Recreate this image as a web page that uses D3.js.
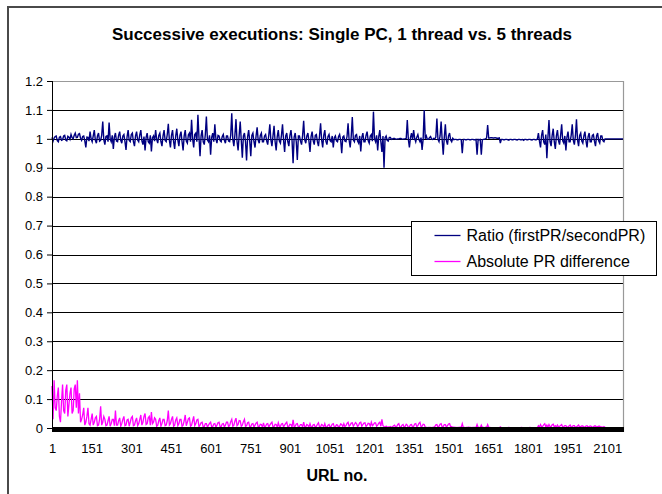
<!DOCTYPE html>
<html>
<head>
<meta charset="utf-8">
<script src="https://cdn.jsdelivr.net/npm/d3@7"></script>
<style>
  body { margin: 0; background: #fff; }
  text { font-family: "Liberation Sans", Arial, sans-serif; }
</style>
</head>
<body>
<div id="chart"></div>
<script>
// each sample covers 4 successive URLs (sample i -> URL 1 + 4*i)
var urlStep = 4;

var ratio = [
  1.005, 0.992, 1.003, 1.008, 1.01, 0.994, 0.99, 1.006, 1.008, 0.995, 0.997, 1.01, 1.012, 0.996, 0.993, 1.009, 1.006, 0.998, 1.015, 1.004,
  1.0, 1.012, 1.02, 1.004, 1.005, 1.016, 1.018, 1.002, 0.995, 1.008, 1.01, 0.994, 0.97, 1.006, 1.005, 0.992, 1.025, 1.0, 0.99, 1.01,
  1.03, 0.995, 0.985, 1.01, 1.02, 0.992, 0.995, 1.012, 1.06, 0.996, 0.98, 1.008, 1.01, 0.99, 1.056, 1.0, 0.99, 1.012, 0.965, 1.006,
  1.02, 0.992, 0.99, 1.012, 1.025, 0.995, 0.985, 1.01, 1.015, 0.99, 0.962, 1.008, 1.03, 0.994, 0.99, 1.015, 1.02, 0.99, 0.975, 1.01,
  1.025, 0.996, 0.99, 1.014, 1.03, 0.993, 0.98, 1.008, 0.96, 1.005, 1.02, 0.99, 0.985, 1.012, 0.956, 1.004, 1.01, 0.992, 1.03, 0.998,
  0.985, 1.012, 1.02, 0.99, 0.975, 1.01, 1.03, 0.994, 0.99, 1.015, 1.052, 0.995, 0.97, 1.012, 1.03, 0.99, 0.965, 1.01, 1.035, 0.996,
  0.975, 1.012, 1.025, 0.99, 0.96, 1.01, 1.03, 0.992, 0.985, 1.014, 1.02, 0.99, 1.066, 1.0, 0.97, 1.015, 1.02, 0.99, 1.083, 1.005,
  0.94, 1.01, 1.03, 0.99, 0.98, 1.015, 1.077, 0.996, 0.99, 1.012, 0.945, 1.005, 1.02, 0.99, 1.05, 1.0, 0.985, 1.012, 1.01, 0.994,
  0.99, 1.008, 1.015, 0.995, 0.985, 1.01, 1.01, 0.992, 0.99, 1.012, 1.088, 0.998, 0.975, 1.014, 1.068, 0.99, 0.96, 1.012, 1.06, 0.994,
  0.935, 1.01, 1.02, 0.99, 0.925, 1.008, 1.03, 0.992, 0.94, 1.012, 1.02, 0.99, 0.97, 1.01, 1.04, 0.995, 0.985, 1.012, 1.02, 0.99,
  0.99, 1.01, 1.015, 0.993, 0.98, 1.012, 1.05, 0.996, 0.975, 1.01, 1.045, 0.99, 0.96, 1.008, 1.03, 0.992, 0.985, 1.012, 1.05, 0.995,
  0.955, 1.01, 1.02, 0.99, 0.975, 1.012, 1.03, 0.995, 0.916, 1.006, 1.02, 0.99, 0.927, 1.01, 1.01, 0.992, 0.98, 1.012, 1.062, 0.996,
  0.985, 1.01, 1.02, 0.992, 0.955, 1.008, 1.025, 0.994, 0.98, 1.012, 1.015, 0.99, 0.975, 1.01, 1.054, 0.996, 0.97, 1.012, 1.03, 0.992,
  0.98, 1.008, 1.015, 0.994, 0.99, 1.01, 0.97, 1.004, 1.01, 0.993, 0.99, 1.008, 1.015, 0.995, 0.95, 1.006, 1.01, 0.992, 0.99, 1.008,
  1.054, 0.995, 0.97, 1.01, 1.075, 0.996, 0.99, 1.012, 1.015, 0.992, 0.985, 1.01, 0.956, 1.005, 1.02, 0.99, 0.99, 1.012, 1.025, 0.994,
  0.985, 1.01, 1.015, 0.992, 1.094, 1.0, 0.99, 1.012, 0.96, 1.008, 1.03, 0.99, 0.955, 1.01, 0.9, 1.004, 1.01, 0.995, 0.992, 1.005,
  1.005, 0.998, 1.0, 1.001, 1.001, 0.999, 0.999, 1.0, 1.0, 1.001, 1.001, 0.999, 0.999, 1.0, 1.0, 1.002, 1.065, 0.998, 0.97, 1.004,
  1.02, 0.996, 1.03, 1.002, 0.99, 1.006, 1.015, 0.998, 0.99, 1.004, 0.962, 1.0, 1.1, 1.0, 1.01, 0.998, 0.998, 1.004, 1.008, 0.999,
  0.998, 1.002, 1.0, 1.006, 1.07, 0.998, 0.99, 1.01, 1.06, 0.996, 0.945, 1.006, 1.05, 0.994, 0.98, 1.01, 1.02, 0.996, 0.99, 1.002,
  0.997, 0.998, 0.998, 0.997, 0.997, 0.998, 0.998, 0.997, 0.95, 0.998, 0.998, 0.997, 0.997, 0.998, 0.998, 0.997, 0.997, 0.998, 0.998, 0.997,
  0.997, 0.998, 0.945, 0.998, 0.997, 0.998, 0.945, 0.997, 0.998, 0.999, 1.0, 1.003, 1.048, 1.003, 1.003, 1.004, 1.004, 1.003, 1.003, 1.004,
  1.003, 1.002, 1.002, 1.003, 0.985, 0.998, 0.998, 0.997, 0.997, 0.998, 0.998, 0.997, 0.995, 0.998, 0.998, 0.997, 0.997, 0.998, 0.998, 0.997,
  0.996, 0.998, 0.998, 0.997, 0.997, 0.998, 0.995, 0.998, 0.998, 0.997, 0.997, 0.998, 0.998, 0.997, 0.996, 0.998, 0.998, 0.997, 0.997, 0.999,
  1.02, 0.992, 0.97, 1.012, 1.03, 0.99, 0.98, 1.015, 0.933, 1.005, 1.065, 0.99, 0.975, 1.012, 1.035, 0.99, 0.965, 1.01, 1.03, 0.994,
  0.98, 1.012, 1.05, 0.993, 0.985, 1.01, 0.96, 1.006, 1.025, 0.99, 0.99, 1.012, 1.05, 0.995, 0.98, 1.01, 1.068, 0.996, 0.975, 1.012,
  1.02, 0.992, 0.985, 1.01, 1.025, 0.993, 0.97, 1.008, 1.02, 0.99, 0.99, 1.012, 1.015, 0.992, 0.975, 1.01, 1.02, 0.993, 0.985, 1.01,
  1.01, 0.994, 0.99, 1.0, 1.0, 1.0, 1.0, 1.0, 1.0, 1.0, 1.0, 1.0, 1.0, 1.0, 1.0, 1.0, 1.0, 1.0, 1.0, 1.0, 1.0
];

var absDiff = [
  0.145, 0.03, 0.165, 0.07, 0.06, 0.11, 0.14, 0.04, 0.02, 0.09, 0.15, 0.06, 0.05, 0.13, 0.15, 0.04, 0.08, 0.12, 0.14, 0.05,
  0.06, 0.135, 0.15, 0.07, 0.165, 0.05, 0.12, 0.02, 0.03, 0.045, 0.07, 0.01, 0.02, 0.04, 0.07, 0.015, 0.01, 0.03, 0.05, 0.01,
  0.02, 0.035, 0.04, 0.008, 0.01, 0.03, 0.075, 0.01, 0.02, 0.04, 0.03, 0.008, 0.01, 0.025, 0.04, 0.006, 0.015, 0.03, 0.03, 0.008,
  0.06, 0.01, 0.01, 0.025, 0.035, 0.006, 0.015, 0.03, 0.04, 0.008, 0.01, 0.028, 0.03, 0.006, 0.02, 0.035, 0.04, 0.008, 0.01, 0.025,
  0.035, 0.008, 0.015, 0.03, 0.045, 0.01, 0.02, 0.04, 0.05, 0.012, 0.015, 0.035, 0.04, 0.01, 0.055, 0.015, 0.02, 0.035, 0.03, 0.006,
  0.01, 0.025, 0.035, 0.006, 0.015, 0.03, 0.03, 0.008, 0.01, 0.025, 0.06, 0.01, 0.015, 0.03, 0.04, 0.006, 0.01, 0.028, 0.035, 0.008,
  0.015, 0.03, 0.03, 0.006, 0.01, 0.025, 0.045, 0.008, 0.02, 0.032, 0.035, 0.006, 0.01, 0.025, 0.04, 0.008, 0.015, 0.028, 0.03, 0.005,
  0.01, 0.018, 0.02, 0.004, 0.005, 0.015, 0.015, 0.003, 0.01, 0.016, 0.02, 0.004, 0.005, 0.014, 0.015, 0.003, 0.01, 0.018, 0.02, 0.004,
  0.005, 0.014, 0.015, 0.004, 0.01, 0.02, 0.02, 0.005, 0.008, 0.022, 0.03, 0.006, 0.01, 0.024, 0.034, 0.008, 0.012, 0.026, 0.025, 0.006,
  0.01, 0.022, 0.03, 0.006, 0.008, 0.018, 0.02, 0.004, 0.005, 0.014, 0.015, 0.003, 0.01, 0.017, 0.02, 0.004, 0.005, 0.013, 0.012, 0.003,
  0.018, 0.004, 0.006, 0.014, 0.015, 0.003, 0.01, 0.016, 0.02, 0.004, 0.005, 0.013, 0.012, 0.003, 0.018, 0.006, 0.006, 0.014, 0.015, 0.004,
  0.01, 0.016, 0.02, 0.004, 0.005, 0.013, 0.012, 0.003, 0.028, 0.005, 0.006, 0.014, 0.015, 0.003, 0.005, 0.012, 0.012, 0.003, 0.02, 0.005,
  0.004, 0.012, 0.01, 0.003, 0.015, 0.004, 0.003, 0.011, 0.012, 0.003, 0.006, 0.013, 0.018, 0.004, 0.004, 0.012, 0.01, 0.003, 0.015, 0.004,
  0.003, 0.01, 0.012, 0.003, 0.006, 0.013, 0.015, 0.004, 0.004, 0.011, 0.01, 0.003, 0.006, 0.014, 0.012, 0.004, 0.015, 0.005, 0.008, 0.016,
  0.02, 0.006, 0.01, 0.017, 0.018, 0.006, 0.012, 0.019, 0.015, 0.005, 0.01, 0.018, 0.02, 0.006, 0.012, 0.017, 0.018, 0.005, 0.01, 0.016,
  0.015, 0.006, 0.02, 0.008, 0.012, 0.018, 0.018, 0.006, 0.01, 0.017, 0.02, 0.006, 0.03, 0.008, 0.005, 0.003, 0.006, 0.002, 0.004, 0.003,
  0.005, 0.002, 0.004, 0.008, 0.01, 0.003, 0.005, 0.012, 0.015, 0.003, 0.003, 0.01, 0.012, 0.003, 0.006, 0.013, 0.01, 0.002, 0.004, 0.011,
  0.012, 0.003, 0.006, 0.014, 0.015, 0.004, 0.008, 0.016, 0.02, 0.005, 0.006, 0.013, 0.012, 0.003, 0.002, 0.001, 0.002, 0.002, 0.002, 0.001,
  0.002, 0.003, 0.005, 0.011, 0.012, 0.003, 0.006, 0.013, 0.015, 0.004, 0.005, 0.012, 0.012, 0.003, 0.008, 0.014, 0.015, 0.004, 0.005, 0.002,
  0.003, 0.002, 0.002, 0.001, 0.002, 0.002, 0.003, 0.002, 0.015, 0.002, 0.002, 0.001, 0.002, 0.002, 0.003, 0.002, 0.002, 0.001, 0.002, 0.002,
  0.002, 0.001, 0.012, 0.002, 0.002, 0.001, 0.01, 0.002, 0.002, 0.001, 0.003, 0.002, 0.012, 0.002, 0.002, 0.001, 0.001, 0.001, 0.001, 0.001,
  0.001, 0.001, 0.001, 0.001, 0.004, 0.001, 0.001, 0.001, 0.001, 0.001, 0.001, 0.001, 0.002, 0.001, 0.001, 0.001, 0.001, 0.001, 0.001, 0.001,
  0.001, 0.001, 0.001, 0.001, 0.002, 0.001, 0.001, 0.001, 0.001, 0.001, 0.001, 0.001, 0.002, 0.001, 0.001, 0.001, 0.001, 0.001, 0.001, 0.001,
  0.008, 0.003, 0.012, 0.004, 0.006, 0.011, 0.015, 0.004, 0.01, 0.003, 0.012, 0.005, 0.005, 0.011, 0.013, 0.004, 0.008, 0.003, 0.01, 0.004,
  0.006, 0.009, 0.012, 0.003, 0.005, 0.008, 0.008, 0.002, 0.004, 0.007, 0.01, 0.003, 0.005, 0.008, 0.008, 0.002, 0.004, 0.007, 0.01, 0.003,
  0.005, 0.007, 0.007, 0.003, 0.004, 0.007, 0.008, 0.003, 0.005, 0.007, 0.006, 0.003, 0.004, 0.007, 0.007, 0.003, 0.005, 0.006, 0.006, 0.003,
  0.004, 0.002, 0.005, 0.002, 0, 0, 0, 0, 0, 0, 0, 0, 0, 0, 0, 0, 0, 0, 0, 0, 0
];

var xTicks = [1, 151, 301, 451, 601, 751, 901, 1051, 1201, 1351, 1501, 1651, 1801, 1951, 2101];
var yTicks = [0, 0.1, 0.2, 0.3, 0.4, 0.5, 0.6, 0.7, 0.8, 0.9, 1, 1.1, 1.2];
var seriesNames = ["Ratio (firstPR/secondPR)", "Absolute PR difference"];
var seriesColors = ["#000080", "#ff00ff"];

var svg = d3.select("#chart")
    .append("svg")
    .attr("width", 662)
    .attr("height", 494);

// outer chart frame (runs off the right/bottom of the picture)
svg.append("rect")
    .attr("x", 8).attr("y", 7)
    .attr("width", 700).attr("height", 600)
    .attr("fill", "none")
    .attr("stroke", "#4a4a4a")
    .attr("stroke-width", 2);

var margin = {top: 81, left: 52},
    width = 571,
    height = 347;

var x = d3.scaleLinear().domain([1, 2161]).range([0, width]),
    y = d3.scaleLinear().domain([0, 1.2]).range([height, 0]);

var g = svg.append("g")
    .attr("transform", "translate(" + margin.left + "," + margin.top + ")");

// gridlines
g.selectAll(".grid")
    .data(yTicks.filter(function(d) { return d > 0 && d < 1.2; }))
    .enter().append("line")
      .attr("x1", 0).attr("x2", width)
      .attr("y1", function(d) { return Math.round(y(d)) + 0.5; })
      .attr("y2", function(d) { return Math.round(y(d)) + 0.5; })
      .attr("stroke", "#000")
      .attr("stroke-width", 1);

// plot area border (top and right, grey)
g.append("path")
    .attr("d", "M0.5,0.5H" + (width + 0.5) + "V" + (height + 4))
    .attr("fill", "none")
    .attr("stroke", "#999")
    .attr("stroke-width", 1.2);

var line = d3.line()
    .x(function(d, i) { return x(1 + i * urlStep); })
    .y(function(d) { return y(d); });

g.append("path")
    .datum(ratio)
    .attr("fill", "none")
    .attr("stroke", seriesColors[0])
    .attr("stroke-width", 1.4)
    .attr("d", line);

g.append("path")
    .datum(absDiff)
    .attr("fill", "none")
    .attr("stroke", seriesColors[1])
    .attr("stroke-width", 1.3)
    .attr("d", line);

// y axis
var yAxis = g.append("g")
    .call(d3.axisLeft(y).tickValues(yTicks).tickSize(5).tickPadding(4)
      .tickFormat(function(d) { return String(+d.toFixed(1)); }));
yAxis.select(".domain").attr("stroke", "#000").attr("d", "M0.5,0V" + (height + 4));
yAxis.selectAll(".tick line").attr("stroke", "#000");
yAxis.selectAll("text").style("font-size", "13px").attr("fill", "#000");

// x axis: heavy black band of dense tick marks
g.append("rect")
    .attr("x", 0).attr("y", height - 1)
    .attr("width", width + 1).attr("height", 5)
    .attr("fill", "#000");

var xAxis = g.append("g")
    .attr("transform", "translate(0," + (height + 4) + ")")
    .call(d3.axisBottom(x).tickValues(xTicks).tickSize(0).tickPadding(12)
      .tickFormat(d3.format("d")));
xAxis.select(".domain").remove();
xAxis.selectAll("text").style("font-size", "13px").attr("fill", "#000");

// titles
svg.append("text")
    .attr("x", 342).attr("y", 40)
    .attr("text-anchor", "middle")
    .style("font-size", "17px")
    .style("font-weight", "bold")
    .text("Successive executions: Single PC, 1 thread vs. 5 threads");

svg.append("text")
    .attr("x", 337).attr("y", 481)
    .attr("text-anchor", "middle")
    .style("font-size", "16px")
    .style("font-weight", "bold")
    .text("URL no.");

// legend
var legend = svg.append("g").attr("transform", "translate(411.5,221.5)");
legend.append("rect")
    .attr("width", 245).attr("height", 54)
    .attr("fill", "#fff")
    .attr("stroke", "#000");

var item = legend.selectAll(".item")
    .data(seriesNames)
    .enter().append("g")
      .attr("transform", function(d, i) { return "translate(0," + (14 + i * 26) + ")"; });
item.append("line")
    .attr("x1", 23).attr("x2", 49)
    .attr("stroke", function(d, i) { return seriesColors[i]; })
    .attr("stroke-width", 1.3);
item.append("text")
    .attr("x", 55).attr("y", 5)
    .style("font-size", "16px")
    .text(function(d) { return d; });
</script>
</body>
</html>
